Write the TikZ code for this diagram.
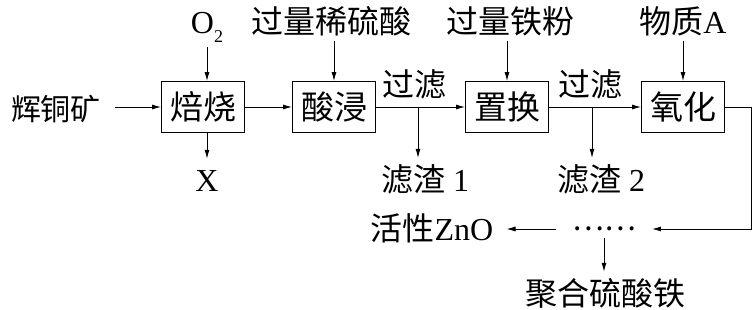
\documentclass[tikz,border=0pt]{standalone}
\usepackage{fontspec}
\setmainfont{Liberation Serif}
\newfontfamily\cjk{Noto Sans CJK SC}
\usetikzlibrary{arrows.meta,positioning}
\tikzset{
  pbox/.style={draw, line width=0.9pt, minimum width=83pt, minimum height=51pt,
               inner sep=0pt, font=\cjk\fontsize{33}{35}\selectfont},
  plabel/.style={inner sep=0pt, font=\fontsize{32}{34}\selectfont},
  flow/.style={-{Latex[length=9pt,width=5pt]}, line width=0.9pt},
}
\begin{document}
\begin{tikzpicture}[x=1pt,y=-1pt]
\useasboundingbox (0,0) rectangle (753,309);
% Process boxes
\node[pbox] (roast) at (203,107) {焙烧};
\node[pbox] (leach) at (334,107) {酸浸};
\node[pbox] (swap) at (507,107) {置换};
\node[pbox] (oxid) at (683,107) {氧化};
% Feeds above
\node[plabel, anchor=base] (o2) at (207,33) {O\raisebox{-9pt}{\fontsize{18}{18}\selectfont 2}};
\node[plabel, anchor=base] (acid) at (331,33) {\cjk 过量稀硫酸};
\node[plabel, anchor=base] (iron) at (510,33) {\cjk 过量铁粉};
\node[plabel, anchor=base] (matA) at (683,33) {{\cjk 物质}A};
\node[plabel, font=\fontsize{30}{32}\selectfont, anchor=base] (ore) at (56,120) {\cjk 辉铜矿};
% Filtration labels
\node[plabel, anchor=base] (filt1) at (414,96) {\cjk 过滤};
\node[plabel, anchor=base] (filt2) at (590,96) {\cjk 过滤};
\coordinate (f1) at (418,107);
\coordinate (f2) at (592,107);
% Products below
\node[plabel, anchor=base] (gasX) at (207,191) {X};
\node[plabel, anchor=base] (res1) at (425,191) {{\cjk 滤渣} 1};
\node[plabel, anchor=base] (res2) at (601,191) {{\cjk 滤渣} 2};
\node[plabel, anchor=base] (zno) at (432,240) {{\cjk 活性}ZnO};
\node[plabel, anchor=base] (pfs) at (605,305) {\cjk 聚合硫酸铁};
\node[plabel, font=\fontsize{30}{32}\selectfont, inner xsep=16pt] (dots) at (604,229) {\cjk ……};
% Main line
\draw[flow, shorten <=14pt] (ore.east |- roast.west) -- (roast.west);
\draw[flow] (roast) -- (leach);
\draw[flow] (leach) -- (swap);
\draw[flow] (swap) -- (oxid);
% Inputs
\draw[flow, shorten <=5pt] (o2.south) -- (o2.south |- roast.north);
\draw[flow, shorten <=5pt] (acid.south -| leach) -- (leach);
\draw[flow, shorten <=5pt] (iron.south -| swap) -- (swap);
\draw[flow, shorten <=5pt] (matA.south -| oxid) -- (oxid);
% Outputs
\draw[flow, shorten >=11pt] (roast.south -| gasX) -- (gasX.north);
\draw[flow, shorten >=6pt] (f1) -- (f1 |- res1.north);
\draw[flow, shorten >=6pt] (f2) -- (f2 |- res2.north);
\draw[flow] (oxid.east) -- ++(26,0) |- (dots.east);
\draw[flow, shorten >=13pt] (dots.west) -- (dots.west -| zno.east);
\draw[flow, shorten >=6pt] ([yshift=-9pt]dots.center) -- (dots.center |- pfs.north);
\end{tikzpicture}
\end{document}
